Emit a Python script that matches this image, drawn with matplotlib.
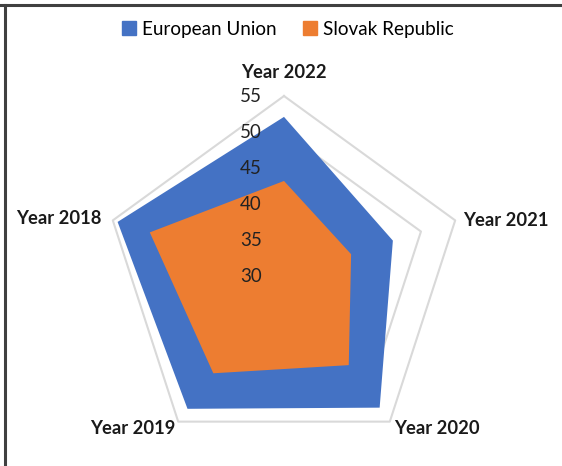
import numpy as np
import matplotlib
matplotlib.use("Agg")
import matplotlib.pyplot as plt
from matplotlib.lines import Line2D

# ---- data ----
categories = ["Year 2022", "Year 2021", "Year 2020", "Year 2019", "Year 2018"]
eu_values = [52.1, 45.9, 52.6, 52.8, 54.3]
sk_values = [43.2, 39.8, 45.3, 46.7, 49.6]
series_names = ["European Union", "Slovak Republic"]
r_ticks = [30, 35, 40, 45, 50, 55]

# ---- style ----
plt.rcParams['font.family'] = ['Lato', 'DejaVu Sans']
colors = ["#4472C4", "#ED7D31"]
grid_color = "#D9D9D9"
# label offsets (pixels) and alignments for category labels
label_style = [
    dict(off=(0, 23), ha="center", va="center"),
    dict(off=(8, 0), ha="left", va="center"),
    dict(off=(4, -7), ha="left", va="center"),
    dict(off=(-3, -7), ha="right", va="center"),
    dict(off=(-11, 2), ha="right", va="center"),
]

W, H = 562, 466
fig = plt.figure(figsize=(W / 100, H / 100), dpi=100)
fig.patch.set_facecolor("white")

R = 180
cx, cy = 284, H - 276
ax = fig.add_axes([(cx - R) / W, (cy - R) / H, 2 * R / W, 2 * R / H], projection="polar")
ax.set_theta_offset(np.pi / 2)
ax.set_theta_direction(-1)
ax.set_ylim(r_ticks[0], r_ticks[-1])
ax.set_xticks([])
ax.set_yticks([])
ax.grid(False)
ax.spines["polar"].set_visible(False)
ax.patch.set_alpha(0)

n = len(categories)
theta = np.arange(n) * 2 * np.pi / n
theta_c = np.append(theta, theta[0])

# polygon gridlines
for lvl in r_ticks[1:]:
    ax.plot(theta_c, [lvl] * (n + 1), color=grid_color, lw=1.5, zorder=1, clip_on=False)

for vals, col, z in [(eu_values, colors[0], 2), (sk_values, colors[1], 3)]:
    ax.fill(theta_c, list(vals) + [vals[0]], color=col, zorder=z, lw=0)

# radial value labels
for v in r_ticks:
    ax.annotate(str(v), xy=(0, v), xytext=(-22, -1), textcoords="offset pixels",
                ha="right", va="center", fontsize=13.5, color="#222222", zorder=5,
                annotation_clip=False)

# category labels
for t, lab, st in zip(theta, categories, label_style):
    ax.annotate(lab, xy=(t, r_ticks[-1]), xytext=st["off"], textcoords="offset pixels",
                ha=st["ha"], va=st["va"], fontsize=13.2, fontweight="bold", color="#1a1a1a",
                annotation_clip=False)

# legend
handles = [Line2D([], [], marker="s", linestyle="none", markersize=10,
                  markerfacecolor=c, markeredgecolor=c) for c in colors]
fig.legend(handles, series_names, loc="center", bbox_to_anchor=(0.51, 1 - 29 / H),
           ncol=2, frameon=False, fontsize=13.6, handletextpad=0.15, columnspacing=1.3,
           handlelength=1.0)

# frame lines (top and left)
fig.add_artist(Line2D([0, 1], [1 - 5 / H, 1 - 5 / H], color="#404040", lw=2.2,
                      transform=fig.transFigure))
fig.add_artist(Line2D([5 / W, 5 / W], [0, 1 - 5 / H], color="#404040", lw=2.2,
                      transform=fig.transFigure))

fig.savefig("out.png", dpi=100)
